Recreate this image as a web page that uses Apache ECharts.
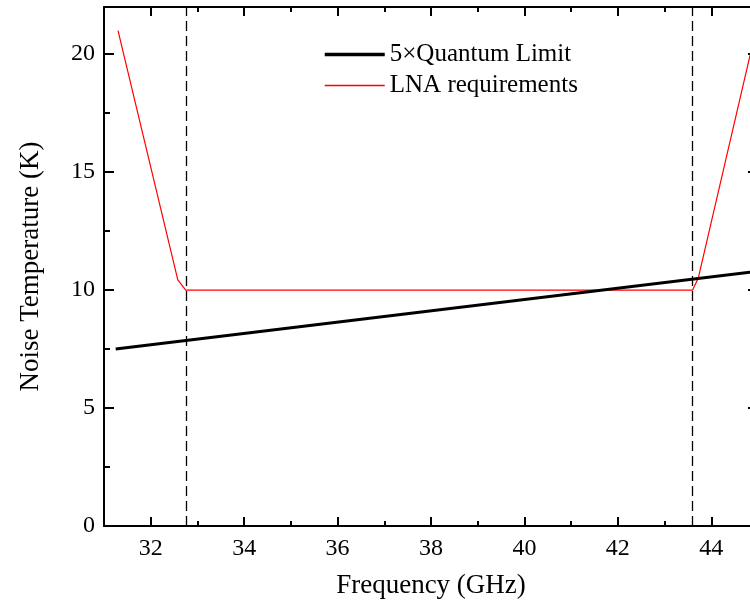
<!DOCTYPE html>
<html>
<head>
<meta charset="utf-8">
<script src="https://cdn.jsdelivr.net/npm/echarts@6/dist/echarts.min.js"></script>
<style>
  html, body { margin: 0; padding: 0; background: #fff; overflow: hidden; }
  #chart { width: 758px; height: 607px; }
</style>
</head>
<body>
<div id="chart"></div>
<script>
// values
var quantumLimit = [[31.25, 7.5], [45, 10.8]];
var lnaRequirements = [[31.3, 21.0], [32.58, 10.43], [32.75, 10], [43.6, 10], [43.72, 10.5], [45, 21.4]];
var bandEdges = [32.75, 43.6];

var xMajorTicks = [32, 34, 36, 38, 40, 42, 44];
var xMinorTicks = [33, 35, 37, 39, 41, 43];
var yMajorTicks = [0, 5, 10, 15, 20];
var yMinorTicks = [2.5, 7.5, 12.5, 17.5];

var FONT = "'Liberation Serif', 'Times New Roman', serif";

function xAx(pos, ticks, len, showLabel, showLine, name) {
    return {
        type: 'value', position: pos, min: 31, max: 45,
        name: name || '', nameLocation: 'middle', nameGap: 46,
        nameTextStyle: { fontFamily: FONT, fontSize: 27, color: '#000' },
        axisLine: { show: showLine, onZero: false, lineStyle: { color: '#000', width: 2 } },
        axisTick: { show: true, inside: true, length: len, customValues: ticks, lineStyle: { color: '#000', width: 2 } },
        axisLabel: { show: showLabel, customValues: ticks, margin: 11, fontFamily: FONT, fontSize: 24, color: '#000' },
        splitLine: { show: false }
    };
}
function yAx(pos, ticks, len, showLabel, showLine, name) {
    return {
        type: 'value', position: pos, min: 0, max: 22,
        name: name || '', nameLocation: 'middle', nameGap: 60,
        nameTextStyle: { fontFamily: FONT, fontSize: 27, color: '#000' },
        axisLine: { show: showLine, onZero: false, lineStyle: { color: '#000', width: 2 } },
        axisTick: { show: true, inside: true, length: len, customValues: ticks, lineStyle: { color: '#000', width: 2 } },
        axisLabel: { show: showLabel, customValues: ticks, margin: 9, fontFamily: FONT, fontSize: 24, color: '#000' },
        splitLine: { show: false }
    };
}

var chart = echarts.init(document.getElementById('chart'), null, { renderer: 'canvas' });
var option = {
    animation: false,
    backgroundColor: '#fff',
    grid: { left: 104, right: 0, top: 7, bottom: 81 },
    legend: {
        orient: 'vertical', left: 323, top: 42, padding: 0,
        itemWidth: 60, itemHeight: 25, itemGap: 6,
        textStyle: { fontFamily: FONT, fontSize: 25, color: '#000' },
        data: [
            { name: '5\u00d7Quantum Limit', itemStyle: { opacity: 0 }, lineStyle: { width: 3.5 } },
            { name: 'LNA requirements', itemStyle: { opacity: 0 }, lineStyle: { width: 1.3 } }
        ]
    },
    xAxis: [
        xAx('bottom', xMajorTicks, 9, true, true, 'Frequency (GHz)'),
        xAx('bottom', xMinorTicks, 5, false, false),
        xAx('top', xMajorTicks, 9, false, true),
        xAx('top', xMinorTicks, 5, false, false)
    ],
    yAxis: [
        yAx('left', yMajorTicks, 10, true, true, 'Noise Temperature (K)'),
        yAx('left', yMinorTicks, 6, false, false),
        yAx('right', yMajorTicks, 10, false, true),
        yAx('right', yMinorTicks, 6, false, false)
    ],
    series: [
        {
            name: 'LNA requirements', type: 'line', symbol: 'none',
            data: lnaRequirements,
            lineStyle: { color: '#ff0000', width: 1.2 },
            itemStyle: { color: '#ff0000' },
            markLine: {
                silent: true, symbol: 'none', label: { show: false },
                lineStyle: { color: '#000', width: 1.3, type: [10, 5] },
                data: bandEdges.map(function (v) { return { xAxis: v }; })
            },
            z: 2
        },
        {
            name: '5\u00d7Quantum Limit', type: 'line', symbol: 'none',
            data: quantumLimit,
            lineStyle: { color: '#000', width: 3 },
            itemStyle: { color: '#000' },
            z: 3
        }
    ]
};
chart.setOption(option);
</script>
</body>
</html>
